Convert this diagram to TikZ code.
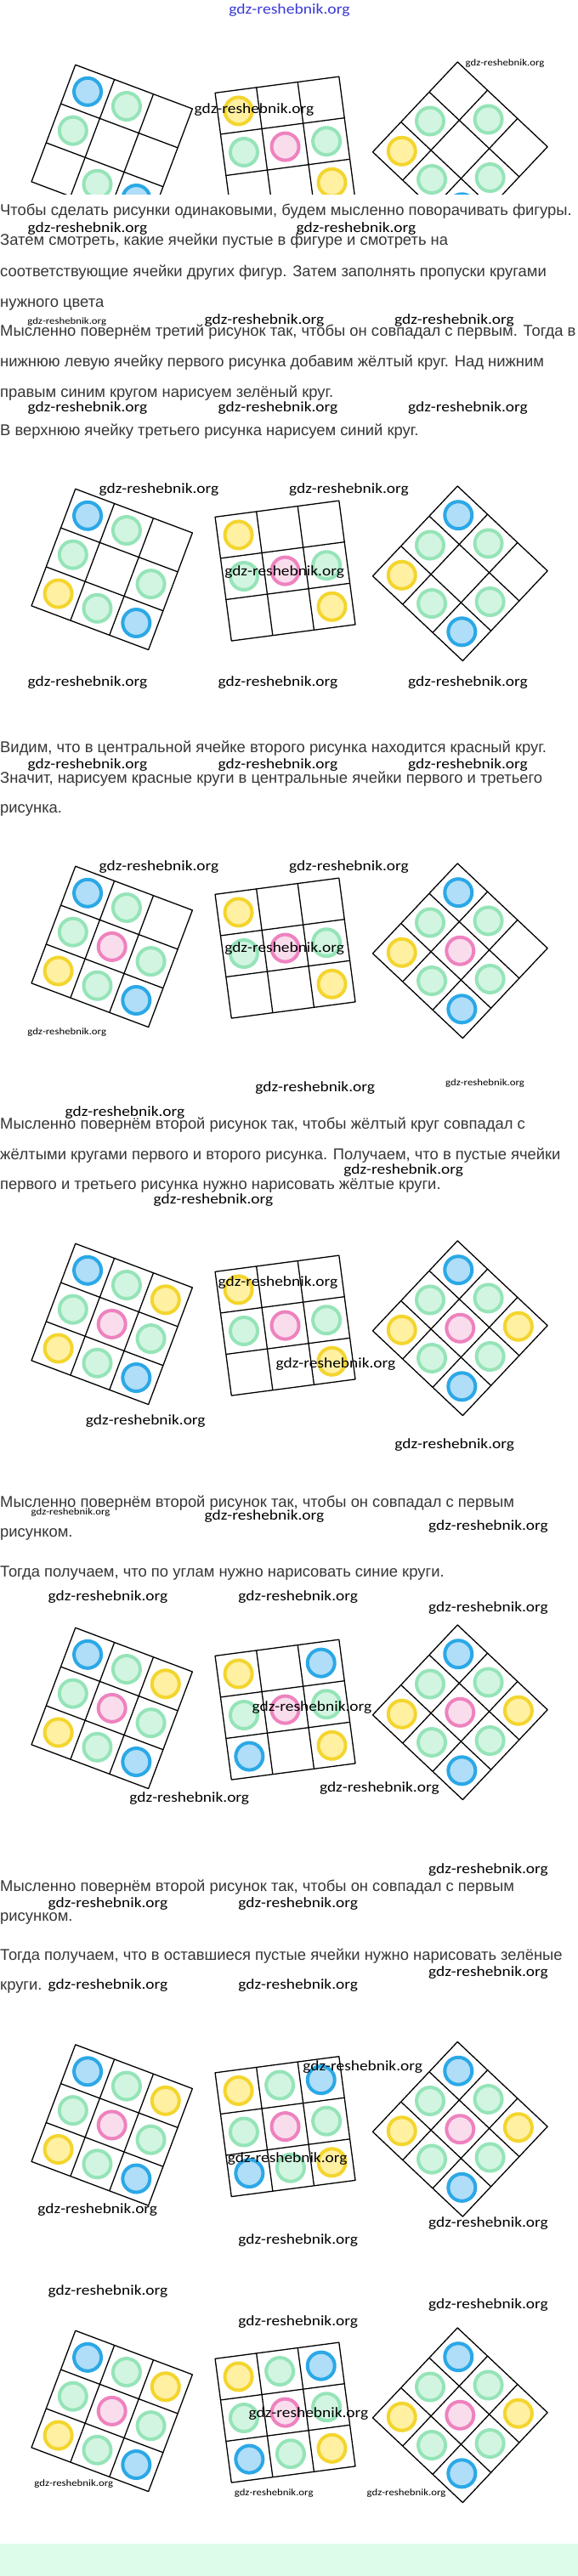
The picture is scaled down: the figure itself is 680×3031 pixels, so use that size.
\documentclass[tikz,border=0pt]{standalone}
\usepackage{fontspec}
\setmainfont{Liberation Sans}
\newfontfamily\wmfont{Carlito}
\usepackage{graphicx}
\definecolor{bS}{HTML}{2BA8E6}
\definecolor{bF}{HTML}{B0DDF7}
\definecolor{gS}{HTML}{95E4B8}
\definecolor{gF}{HTML}{D2F5E1}
\definecolor{pS}{HTML}{EE82BF}
\definecolor{pF}{HTML}{FADDEC}
\definecolor{yS}{HTML}{F4D52E}
\definecolor{yF}{HTML}{FFF0A2}
\definecolor{bandcol}{HTML}{DDFCE9}
\definecolor{ttl}{HTML}{3A3AD6}
\definecolor{bodytext}{HTML}{363636}
\tikzset{
  circB/.style={draw=bS,fill=bF,line width=4},
  circG/.style={draw=gS,fill=gF,line width=4},
  circP/.style={draw=pS,fill=pF,line width=4},
  circY/.style={draw=yS,fill=yF,line width=4},
  circx/.style={},
  gridline/.style={draw=black,line width=1.3,line join=round},
  body/.style={anchor=base west,inner sep=0,text=bodytext,font=\fontsize{18.4}{18.4}\selectfont},
  wm/.style={inner sep=0,text=black},
  ttlstyle/.style={inner sep=0,text=ttl}
}
\newcommand\WL{\scalebox{1.14}[1]{\wmfont\fontsize{17}{17}\selectfont gdz-reshebnik.org}}
\newcommand\WS{\scalebox{1.14}[1]{\wmfont\fontsize{11.2}{11.2}\selectfont gdz-reshebnik.org}}
\newcommand\WT{\scalebox{1.14}[1]{\wmfont\fontsize{17.2}{17.2}\selectfont gdz-reshebnik.org}}
% one rotated 3x3 grid: #1 cx, #2 cy, #3 rotation, #4 cell size, #5 cell list
\newcommand\drawgrid[5]{%
  \begin{scope}[shift={(#1,#2)},rotate=#3]
    \foreach \cc [count=\ii from 0] in {#5} {
      \pgfmathtruncatemacro\rr{\ii/3}
      \pgfmathtruncatemacro\kk{mod(\ii,3)}
      \path[circ\cc] ({(\kk-1)*#4},{(\rr-1)*#4}) circle (16);
    }
    \draw[gridline] ({-1.5*#4},{-1.5*#4}) rectangle ({1.5*#4},{1.5*#4});
    \draw[gridline] ({-0.5*#4},{-1.5*#4}) -- ({-0.5*#4},{1.5*#4});
    \draw[gridline] ({0.5*#4},{-1.5*#4}) -- ({0.5*#4},{1.5*#4});
    \draw[gridline] ({-1.5*#4},{-0.5*#4}) -- ({1.5*#4},{-0.5*#4});
    \draw[gridline] ({-1.5*#4},{0.5*#4}) -- ({1.5*#4},{0.5*#4});
  \end{scope}}
% a row of three grids shifted by #1
\newcommand\threegrids[4]{%
  \drawgrid{131.7}{669.9+(#1)}{-20.6}{49}{#2}
  \drawgrid{335.55}{671.6+(#1)}{7.5}{49}{#3}
  \drawgrid{541.3}{674.75+(#1)}{-43.3}{48.5}{#4}}
\begin{document}
\begin{tikzpicture}[x=1pt,y=-1pt]
\useasboundingbox (0,0) rectangle (680,3031);
\fill[white] (0,0) rectangle (680,3031);
\fill[bandcol] (0,2992.7) rectangle (680,3031);

% ---- grids ----
\begin{scope}
  \clip (0,0) rectangle (680,228.5);
  \threegrids{-499}{B,G,x,G,x,x,x,G,B}{Y,x,x,G,P,G,x,x,Y}{x,G,x,G,x,G,Y,G,B}
\end{scope}
\threegrids{0}{B,G,x,G,x,G,Y,G,B}{Y,x,x,G,P,G,x,x,Y}{B,G,x,G,x,G,Y,G,B}
\threegrids{444}{B,G,x,G,P,G,Y,G,B}{Y,x,x,G,P,G,x,x,Y}{B,G,x,G,P,G,Y,G,B}
\threegrids{888}{B,G,Y,G,P,G,Y,G,B}{Y,x,x,G,P,G,x,x,Y}{B,G,Y,G,P,G,Y,G,B}
\threegrids{1340}{B,G,Y,G,P,G,Y,G,B}{Y,x,B,G,P,G,B,x,Y}{B,G,Y,G,P,G,Y,G,B}
\threegrids{1830.5}{B,G,Y,G,P,G,Y,G,B}{Y,G,B,G,P,G,B,G,Y}{B,G,Y,G,P,G,Y,G,B}
\threegrids{2167}{B,G,Y,G,P,G,Y,G,B}{Y,G,B,G,P,G,B,G,Y}{B,G,Y,G,P,G,Y,G,B}

% ---- body text ----
\node[body] (t1) at (0,253) {Чтобы сделать рисунки одинаковыми, будем мысленно поворачивать фигуры.};
\node[body] (t2) at (0,288) {Затем смотреть, какие ячейки пустые в фигуре и смотреть на};
\node[body] (t3) at (0,325) {соответствующие ячейки других фигур. Затем заполнять пропуски кругами};
\node[body] (t4) at (0,361) {нужного цвета};
\node[body] (t5) at (0,395) {Мысленно повернём третий рисунок так, чтобы он совпадал с первым. Тогда в};
\node[body] (t6) at (0,431.7) {нижнюю левую ячейку первого рисунка добавим жёлтый круг. Над нижним};
\node[body] (t7) at (0,467.3) {правым синим кругом нарисуем зелёный круг.};
\node[body] (t8) at (0,512.3) {В верхнюю ячейку третьего рисунка нарисуем синий круг.};
\node[body] (t9) at (0,885) {Видим, что в центральной ячейке второго рисунка находится красный круг.};
\node[body] (t10) at (0,921) {Значит, нарисуем красные круги в центральные ячейки первого и третьего};
\node[body] (t11) at (0,956.7) {рисунка.};
\node[body] (t12) at (0,1328) {Мысленно повернём второй рисунок так, чтобы жёлтый круг совпадал с};
\node[body] (t13) at (0,1364) {жёлтыми кругами первого и второго рисунка. Получаем, что в пустые ячейки};
\node[body] (t14) at (0,1399) {первого и третьего рисунка нужно нарисовать жёлтые круги.};
\node[body] (t15) at (0,1773) {Мысленно повернём второй рисунок так, чтобы он совпадал с первым};
\node[body] (t16) at (0,1808) {рисунком.};
\node[body] (t17) at (0,1855) {Тогда получаем, что по углам нужно нарисовать синие круги.};
\node[body] (t18) at (0,2225) {Мысленно повернём второй рисунок так, чтобы он совпадал с первым};
\node[body] (t19) at (0,2260.7) {рисунком.};
\node[body] (t20) at (0,2306) {Тогда получаем, что в оставшиеся пустые ячейки нужно нарисовать зелёные};
\node[body] (t21) at (0,2341.7) {круги.};

% ---- watermarks ----
\node[ttlstyle] (title) at (340.5,12.5) {\WT};
\node[wm] (w2) at (594,75) {\WS};
\node[wm] (w3) at (299,129.5) {\WL};
\node[wm] (w4) at (103,269.5) {\WL};
\node[wm] (w5) at (419,269.5) {\WL};
\node[wm] (w6) at (78.7,378.5) {\WS};
\node[wm] (w7) at (311,377.5) {\WL};
\node[wm] (w8) at (534.5,377.5) {\WL};
\node[wm] (w9) at (103,480.5) {\WL};
\node[wm] (w10) at (327,480.5) {\WL};
\node[wm] (w11) at (550.5,480.5) {\WL};
\node[wm] (w12) at (187,576.5) {\WL};
\node[wm] (w13) at (410.5,576.5) {\WL};
\node[wm] (w14) at (334.6,673.5) {\WL};
\node[wm] (w15) at (103,803.5) {\WL};
\node[wm] (w16) at (327,803.5) {\WL};
\node[wm] (w17) at (550.5,803.5) {\WL};
\node[wm] (w18) at (103,900.5) {\WL};
\node[wm] (w19) at (327,900.5) {\WL};
\node[wm] (w20) at (550.5,900.5) {\WL};
\node[wm] (w21) at (187,1020.5) {\WL};
\node[wm] (w22) at (410.5,1020.5) {\WL};
\node[wm] (w23) at (334.6,1116.5) {\WL};
\node[wm] (w24) at (78.7,1215) {\WS};
\node[wm] (w25) at (370.7,1280.5) {\WL};
\node[wm] (w26) at (570.5,1275) {\WS};
\node[wm] (w27) at (147,1309.5) {\WL};
\node[wm] (w28) at (474.7,1377.5) {\WL};
\node[wm] (w29) at (251,1412.5) {\WL};
\node[wm] (w30) at (327,1509.5) {\WL};
\node[wm] (w31) at (395,1605) {\WL};
\node[wm] (w32) at (171.3,1672.5) {\WL};
\node[wm] (w33) at (534.7,1700.5) {\WL};
\node[wm] (w34) at (83,1779.5) {\WS};
\node[wm] (w35) at (311,1784.5) {\WL};
\node[wm] (w36) at (574.5,1796) {\WL};
\node[wm] (w37) at (127,1879.5) {\WL};
\node[wm] (w38) at (350.7,1879.5) {\WL};
\node[wm] (w39) at (574.5,1892) {\WL};
\node[wm] (w40) at (367,2009.5) {\WL};
\node[wm] (w41) at (222.8,2116) {\WL};
\node[wm] (w42) at (446.4,2104.5) {\WL};
\node[wm] (w43) at (574.5,2200.5) {\WL};
\node[wm] (w44) at (127,2240.5) {\WL};
\node[wm] (w45) at (350.7,2240.5) {\WL};
\node[wm] (w46) at (574.5,2321) {\WL};
\node[wm] (w47) at (127,2336.5) {\WL};
\node[wm] (w48) at (350.7,2336.5) {\WL};
\node[wm] (w49) at (426.7,2432.5) {\WL};
\node[wm] (w50) at (338.2,2540.5) {\WL};
\node[wm] (w51) at (114.8,2600) {\WL};
\node[wm] (w52) at (574.5,2616.5) {\WL};
\node[wm] (w53) at (350.7,2636.5) {\WL};
\node[wm] (w54) at (127,2696.5) {\WL};
\node[wm] (w55) at (574.5,2712.5) {\WL};
\node[wm] (w56) at (350.7,2732.5) {\WL};
\node[wm] (w57) at (363,2840) {\WL};
\node[wm] (w58) at (86.8,2922.5) {\WS};
\node[wm] (w59) at (322.2,2934) {\WS};
\node[wm] (w60) at (478,2934) {\WS};
\end{tikzpicture}
\end{document}
